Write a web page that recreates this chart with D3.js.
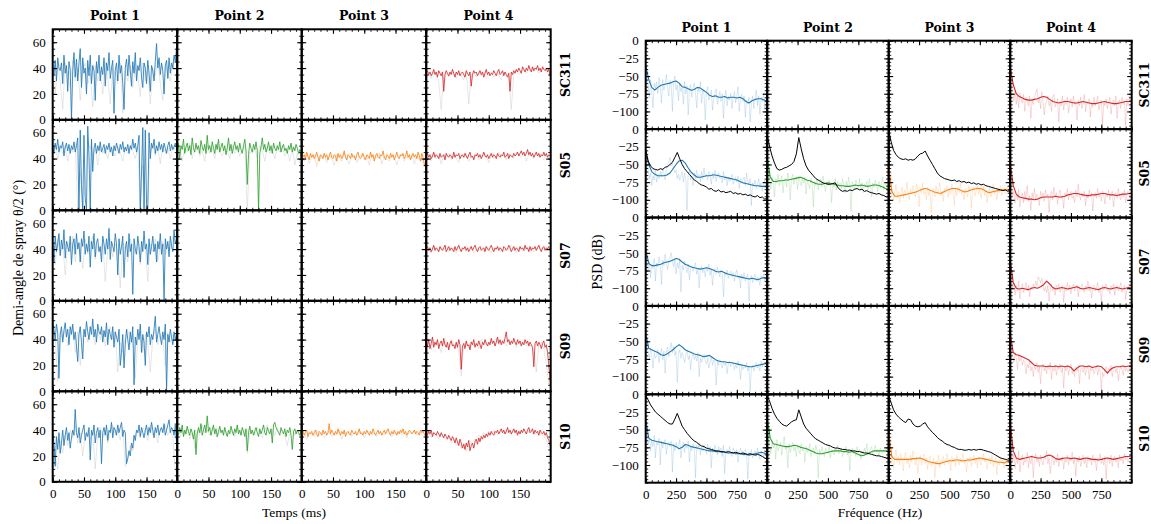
<!DOCTYPE html>
<html><head><meta charset="utf-8">
<script src="https://cdn.jsdelivr.net/npm/d3@7"></script>
<style>body{margin:0;background:#fff}text{fill:#000}</style>
</head><body><svg id="c" width="1151" height="524"></svg>
<script>
// ---------- labels / ticks ----------
const rowNames = ["SC311","S05","S07","S09","S10"];
const colNames = ["Point 1","Point 2","Point 3","Point 4"];
const seriesColors = ["#1f77b4","#2ca02c","#ff7f0e","#d62728"];
const refColor = "#000000";
const timeTicks = [0,50,100,150];
const angleTicks = [0,20,40,60];
const freqTicks = [0,250,500,750];
const psdTicks = [0,-25,-50,-75,-100];
const timeMinor = d3.range(0,200,10);
const angleMinor = d3.range(0,71,5);
const freqMinor = d3.range(0,1001,50);
const psdMinor = d3.range(-125,1,5);
const angleStep = 2, angleGrayStep = 4, psdStep = 25, psdRawStep = 10, psdRefStep = 20;

// ---------- half-angle time series (deg), every 2 ms ----------
const angle_SC311_P1 = [42,35,46,30,48,40,38,44,28,50,36,42,22,45,39,0,38,52,33,47,30,44,55,25,48,36,40,20,46,34,50,28,42,38,15,45,36,50,30,41,35,48,26,44,38,52,32,40,46,5,38,44,30,50,36,42,28,8,40,47,34,50,38,26,45,36,52,30,42,38,48,33,25,44,40,28,46,36,22,42,38,30,45,59,40,48,35,44,38,20,42,46,32,48,36,44,40,50,45,56];
const angle_SC311_P4 = [36,38,35,37,34,36,39,35,37,33,38,36,34,37,22,35,38,36,34,37,35,39,36,33,37,35,38,34,36,37,35,33,38,36,34,37,26,35,38,36,37,34,36,38,35,37,33,36,39,35,37,34,36,35,38,36,34,37,39,35,36,38,34,37,35,33,36,22,37,35,38,36,39,37,40,38,36,41,39,37,40,38,42,39,37,41,38,40,39,42,38,40,37,41,39,38,40,37,39,34];
const angle_S05_P1 = [50,44,52,47,55,45,50,48,53,42,49,52,46,51,44,50,47,53,45,50,56,0,62,20,0,58,10,0,65,42,0,55,30,48,52,44,50,46,53,45,48,51,44,50,47,52,45,49,42,50,46,52,48,44,51,47,53,45,49,46,51,44,50,47,55,48,52,45,50,58,0,30,64,0,62,5,0,60,40,52,48,55,44,50,46,53,47,51,45,52,48,44,50,53,46,51,47,49,52,48];
const angle_S05_P2 = [45,52,40,50,47,55,44,49,52,46,50,43,56,48,45,52,47,50,44,54,49,46,51,44,58,47,50,45,53,48,44,51,47,55,45,49,52,46,50,43,48,56,46,51,44,49,53,47,50,45,52,47,44,50,55,46,20,43,52,48,45,51,47,53,46,0,44,49,56,47,51,45,48,53,46,50,44,52,48,46,50,47,53,45,49,51,46,48,44,50,47,52,45,49,46,51,48,44,47,40];
const angle_S05_P3 = [44,41,43,40,45,42,39,44,41,43,40,42,45,41,38,43,42,40,44,41,43,39,42,45,41,40,43,42,38,44,41,43,40,42,46,41,39,43,42,40,44,41,42,39,43,45,41,40,42,44,41,39,43,42,40,45,41,43,38,42,44,41,40,43,42,46,41,39,43,42,40,44,41,43,39,42,45,41,40,43,42,44,40,42,46,41,43,39,42,44,41,43,40,45,42,38,44,41,36,33];
const angle_S05_P4 = [42,44,41,43,40,42,45,41,43,42,40,44,41,42,43,39,44,42,41,43,42,40,45,41,43,42,44,40,42,43,41,44,42,40,43,45,41,42,39,43,42,44,41,43,40,42,45,42,41,43,40,42,44,41,43,42,40,44,42,41,43,42,45,41,42,44,40,43,42,41,44,42,43,45,42,44,46,43,45,42,44,47,43,45,42,44,41,43,45,42,44,41,43,42,45,42,44,41,43,42];
const angle_S07_P1 = [45,30,50,38,44,52,35,47,40,55,33,46,42,38,50,28,44,48,36,52,40,45,30,48,42,54,36,44,38,50,26,46,40,52,34,45,48,38,42,30,50,44,36,48,40,56,32,46,42,38,52,44,20,48,36,42,50,18,40,46,34,52,38,44,5,48,40,36,50,42,30,46,38,54,40,44,28,48,36,42,50,38,44,30,46,40,52,36,44,0,48,40,46,34,50,42,38,55,44,48];
const angle_S07_P4 = [40,42,39,41,38,40,43,39,41,40,38,42,40,39,41,43,38,40,42,39,41,40,38,42,39,41,43,40,38,41,40,42,39,41,38,40,42,39,41,43,40,38,41,42,39,40,41,38,42,40,39,41,43,40,38,41,40,42,39,41,40,38,42,41,39,40,43,41,38,40,42,39,41,40,38,42,40,41,39,43,40,41,38,42,39,41,40,42,39,41,43,40,38,41,42,39,41,40,42,39];
const angle_S09_P1 = [55,48,40,52,45,10,44,50,38,47,53,42,48,36,50,44,52,40,46,35,23,44,50,38,25,48,42,54,46,40,50,44,56,42,48,38,52,46,44,50,38,47,42,53,36,48,44,40,50,34,46,42,38,48,20,30,44,18,36,48,40,32,46,38,50,5,42,36,48,40,52,30,44,38,20,46,42,50,36,44,40,48,58,38,44,50,42,36,46,40,52,0,44,38,48,42,36,46,40,45];
const angle_S09_P4 = [38,35,40,33,37,42,34,38,36,40,33,37,39,35,41,36,34,38,32,37,39,35,36,33,38,34,40,36,17,35,37,33,39,35,36,32,38,36,40,34,37,35,39,36,33,38,36,40,37,35,38,36,41,37,39,35,38,42,37,40,36,39,37,41,46,38,40,36,39,37,41,38,36,40,37,39,35,38,36,40,37,39,35,38,36,34,19,37,39,35,38,36,33,37,39,34,36,30,20,8];
const angle_S10_P1 = [40,30,12,35,25,38,22,30,40,28,36,42,32,38,26,34,40,36,56,38,34,42,30,36,40,44,32,38,35,42,17,40,36,44,30,38,42,34,40,14,38,42,36,44,32,40,38,46,34,42,40,36,44,38,42,46,35,40,38,14,18,24,20,30,26,36,32,40,38,44,35,42,38,34,40,44,36,42,38,46,40,34,42,38,44,36,40,42,38,45,36,40,44,48,38,42,40,36,44,30];
const angle_S10_P2 = [40,36,42,38,44,35,40,37,43,39,36,41,38,33,40,21,37,42,38,45,36,40,44,38,51,39,42,36,40,44,37,41,35,39,43,38,40,36,42,38,35,40,37,43,39,36,41,38,44,37,40,36,42,39,35,41,24,38,43,37,40,36,39,42,38,35,41,37,40,44,38,36,42,39,37,41,30,44,46,42,40,38,36,42,39,37,41,35,40,38,42,36,25,39,41,37,40,38,36,40];
const angle_S10_P3 = [37,39,36,38,40,35,38,37,39,36,38,40,37,35,39,38,36,40,37,39,36,38,45,37,40,38,36,39,37,41,38,36,39,37,40,35,38,39,37,36,40,38,37,39,36,38,41,37,38,36,39,37,40,38,36,39,37,41,38,36,38,40,37,39,36,38,40,37,39,41,38,36,39,37,40,38,36,39,37,40,38,41,37,39,36,38,40,39,37,38,40,37,39,38,36,40,38,39,37,35];
const angle_S10_P4 = [38,36,39,37,40,35,38,37,36,39,37,35,38,36,34,37,35,33,36,34,32,35,33,30,34,31,28,33,30,26,29,25,30,27,32,24,28,30,26,31,33,29,34,31,35,33,36,34,37,35,38,36,39,37,36,39,38,40,37,39,41,38,40,37,39,42,38,40,37,39,41,38,40,36,39,37,40,38,41,39,37,40,42,38,39,41,37,40,38,39,36,40,38,37,39,36,38,34,32,28];

// ---------- light grey background realisations, every 4 ms ----------
const angleGray_SC311_P1 = [38,20,42,30,8,44,35,25,46,30,40,15,38,44,28,36,10,42,30,38,20,45,33,12,40,36,28,44,5,38,30,42,25,40,35,18,44,30,38,12,40,34,46,28,15,42,36,30,44,50];
const angleGray_SC311_P4 = [34,36,32,37,35,30,8,34,36,33,37,35,32,36,34,31,37,12,35,36,33,37,34,36,32,35,37,33,36,34,31,37,35,33,8,36,38,35,37,39,36,38,40,37,39,36,38,40,37,35];
const angleGray_S05_P1 = [46,50,40,48,44,50,38,48,45,52,0,30,0,20,46,50,42,48,35,50,44,48,40,50,46,42,49,45,38,48,44,50,46,40,48,0,35,0,10,46,50,42,48,36,50,44,48,40,50,46];
const angleGray_S05_P2 = [44,50,38,48,45,52,40,47,50,42,46,38,50,44,48,40,52,45,42,48,46,40,50,44,48,42,47,50,0,45,44,48,40,50,46,38,49,44,47,40,48,45,50,42,46,38,48,35,44,36];
const angleGray_S05_P3 = [42,38,44,36,41,43,34,42,40,44,37,42,40,35,43,41,38,44,40,36,42,43,37,41,44,39,42,35,43,40,41,44,36,42,40,38,43,41,35,42,44,38,41,40,43,36,42,39,40,34];
const angleGray_S05_P4 = [41,43,38,44,40,42,36,43,41,44,39,42,40,37,43,41,44,38,42,40,43,39,41,44,42,37,43,40,42,45,41,43,39,44,42,40,45,43,41,44,38,43,42,40,44,41,43,39,42,41];
const angleGray_S07_P1 = [42,28,48,35,44,20,46,38,50,30,44,40,25,48,36,44,50,32,42,38,46,15,40,48,34,44,38,10,45,40,30,48,42,36,44,28,46,40,15,44,38,48,30,42,46,36,44,40,50,45];
const angleGray_S07_P4 = [39,41,37,42,40,38,41,39,43,38,40,41,37,42,39,40,38,41,42,37,40,39,41,38,42,40,37,41,39,42,40,38,41,39,43,40,37,41,40,38,42,39,41,38,40,42,39,41,38,40];
const angleGray_S09_P1 = [50,42,8,46,40,48,35,44,50,30,46,20,42,48,38,50,44,36,46,40,48,35,44,50,40,46,15,38,30,42,48,36,44,10,40,46,30,44,38,15,42,48,36,44,40,20,46,38,44,40];
const angleGray_S09_P4 = [36,38,32,40,35,37,30,38,36,33,40,35,37,31,12,36,38,34,39,35,37,33,40,36,38,35,39,37,41,36,38,40,35,38,36,39,34,38,36,37,35,38,34,32,15,36,38,33,20,5];
const angleGray_S10_P1 = [38,20,10,32,22,36,28,40,34,44,30,38,20,36,40,32,38,10,36,42,34,40,30,38,44,36,40,32,42,12,18,28,24,36,40,34,42,38,32,44,36,40,30,42,38,44,36,40,34,8];
const angleGray_S10_P2 = [38,34,40,36,42,33,38,26,40,36,44,38,40,36,42,38,34,40,37,42,36,38,40,35,42,38,36,40,22,38,40,36,42,38,34,40,44,38,40,36,42,38,40,36,28,38,40,36,38,35];
const angleGray_S10_P3 = [36,38,33,39,37,35,40,36,38,34,37,39,35,38,36,40,33,38,37,39,35,38,36,40,37,34,38,39,36,38,35,39,37,36,40,38,35,38,37,39,36,38,34,39,37,40,36,38,37,34];
const angleGray_S10_P4 = [36,38,34,39,36,33,37,34,32,35,30,33,28,31,26,30,24,28,30,32,34,36,35,38,36,39,37,40,36,38,40,37,39,38,36,40,37,39,38,41,37,39,40,36,38,39,37,35,32,26];

// ---------- PSD smoothed (dB), every 25 Hz ----------
const psd_SC311_P1 = [-35,-55,-66,-70,-66,-63,-62,-61,-60,-58,-57,-60,-65,-66,-68,-70,-69,-66,-67,-70,-73,-77,-79,-78,-80,-80,-79,-81,-80,-80,-81,-80,-82,-86,-88,-85,-83,-82,-82,-84,-86];
const psd_SC311_P4 = [-37,-62,-75,-79,-81,-83,-84,-84,-83,-82,-80,-79,-80,-83,-86,-87,-88,-87,-86,-86,-87,-88,-88,-87,-86,-87,-88,-89,-89,-88,-87,-86,-87,-88,-89,-89,-88,-87,-86,-86,-85];
const psd_S05_P1 = [-30,-50,-60,-64,-66,-66,-66,-65,-62,-56,-50,-45,-44,-48,-55,-61,-65,-68,-68,-67,-66,-66,-65,-65,-66,-67,-68,-69,-70,-71,-72,-74,-76,-77,-78,-79,-80,-80,-81,-81,-82];
const psd_S05_P2 = [-40,-68,-74,-74,-73,-73,-72,-72,-71,-70,-69,-68,-70,-72,-73,-75,-77,-78,-78,-77,-76,-77,-78,-79,-80,-80,-81,-81,-80,-79,-80,-79,-80,-81,-80,-79,-79,-80,-82,-84,-86];
const psd_S05_P3 = [-50,-88,-95,-95,-94,-93,-92,-91,-90,-89,-87,-85,-84,-85,-87,-89,-90,-91,-89,-87,-85,-84,-84,-85,-87,-89,-88,-86,-85,-84,-84,-85,-88,-90,-89,-88,-87,-86,-86,-86,-87];
const psd_S05_P4 = [-48,-80,-92,-96,-97,-98,-99,-99,-100,-99,-97,-96,-96,-96,-96,-95,-96,-96,-95,-93,-92,-91,-91,-92,-93,-94,-94,-93,-93,-92,-91,-91,-92,-93,-93,-94,-93,-92,-92,-91,-91];
const psd_S07_P1 = [-45,-65,-68,-68,-67,-66,-64,-63,-62,-60,-58,-59,-63,-66,-68,-70,-71,-72,-73,-72,-71,-72,-74,-76,-77,-76,-78,-80,-81,-82,-83,-84,-85,-86,-87,-86,-87,-88,-86,-85,-86];
const psd_S07_P4 = [-60,-92,-100,-101,-100,-101,-102,-100,-99,-100,-98,-95,-90,-94,-99,-101,-100,-99,-100,-101,-100,-99,-98,-100,-101,-100,-99,-100,-101,-102,-100,-99,-100,-101,-100,-99,-100,-101,-100,-99,-100];
const psd_S09_P1 = [-38,-60,-62,-64,-66,-69,-70,-68,-65,-62,-58,-55,-58,-62,-64,-66,-68,-69,-70,-72,-71,-70,-73,-76,-78,-79,-79,-80,-80,-81,-82,-83,-84,-85,-86,-86,-85,-84,-83,-82,-81];
const psd_S09_P4 = [-40,-66,-69,-70,-72,-74,-76,-80,-84,-85,-85,-85,-86,-85,-86,-85,-86,-85,-86,-85,-87,-92,-88,-85,-85,-86,-85,-87,-86,-85,-86,-90,-95,-90,-87,-86,-86,-85,-86,-85,-84];
const psd_S10_P1 = [-35,-62,-65,-66,-67,-68,-69,-70,-71,-72,-74,-77,-75,-71,-72,-74,-75,-76,-77,-78,-79,-80,-80,-81,-81,-82,-82,-83,-83,-83,-84,-84,-85,-85,-86,-85,-84,-83,-82,-83,-85];
const psd_S10_P2 = [-33,-62,-70,-71,-72,-73,-74,-74,-73,-72,-73,-75,-76,-77,-79,-81,-83,-84,-84,-83,-82,-81,-80,-80,-80,-81,-81,-82,-81,-83,-85,-87,-86,-84,-82,-80,-80,-80,-80,-80,-81];
const psd_S10_P3 = [-52,-88,-92,-92,-92,-92,-92,-92,-91,-91,-90,-91,-93,-95,-96,-97,-98,-98,-96,-95,-94,-94,-93,-93,-94,-94,-93,-93,-92,-91,-90,-91,-92,-93,-94,-95,-96,-96,-97,-95,-94];
const psd_S10_P4 = [-40,-80,-90,-92,-91,-90,-89,-88,-89,-90,-90,-89,-87,-86,-88,-91,-92,-91,-90,-90,-91,-90,-91,-92,-91,-90,-91,-92,-92,-93,-92,-91,-90,-91,-92,-91,-90,-89,-88,-88,-87];

// ---------- PSD raw (dB), every 10 Hz ----------
const psdRaw_SC311_P1 = [-30,-50,-62,-80,-55,-72,-95,-60,-68,-58,-75,-52,-64,-88,-55,-70,-60,-48,-66,-78,-56,-62,-100,-58,-50,-70,-62,-85,-60,-72,-66,-90,-58,-75,-64,-105,-70,-62,-80,-68,-60,-74,-95,-66,-72,-58,-88,-70,-76,-112,-72,-65,-84,-78,-70,-98,-82,-74,-68,-90,-80,-72,-86,-75,-110,-80,-70,-92,-78,-84,-74,-96,-80,-72,-88,-78,-65,-100,-82,-76,-86,-78,-108,-84,-90,-80,-115,-88,-78,-96,-82,-70,-92,-78,-104,-80,-86,-74,-98,-85];
const psdRaw_SC311_P4 = [-35,-55,-70,-85,-72,-90,-78,-95,-74,-82,-88,-76,-100,-80,-86,-92,-78,-110,-84,-90,-80,-74,-68,-88,-82,-96,-72,-85,-105,-90,-84,-78,-92,-86,-100,-80,-76,-94,-88,-82,-115,-86,-92,-78,-98,-84,-90,-80,-102,-88,-82,-94,-78,-90,-86,-112,-84,-92,-80,-96,-88,-76,-100,-86,-90,-82,-108,-88,-94,-80,-92,-86,-78,-98,-90,-84,-118,-88,-92,-82,-96,-86,-80,-104,-90,-84,-92,-78,-110,-88,-84,-96,-80,-90,-86,-120,-82,-92,-78,-88];
const psdRaw_S05_P1 = [-25,-45,-58,-70,-62,-80,-66,-72,-58,-75,-64,-70,-60,-68,-55,-62,-72,-58,-50,-46,-40,-52,-48,-55,-62,-58,-70,-64,-72,-66,-60,-75,-62,-70,-115,-64,-58,-72,-66,-80,-62,-70,-58,-68,-64,-75,-60,-70,-55,-68,-64,-72,-60,-66,-78,-62,-70,-58,-74,-66,-62,-70,-68,-76,-60,-72,-66,-80,-68,-74,-70,-64,-78,-72,-68,-75,-66,-84,-70,-76,-72,-68,-80,-62,-74,-78,-70,-108,-76,-80,-72,-84,-78,-70,-82,-76,-88,-78,-72,-84];
const psdRaw_S05_P2 = [-38,-60,-72,-85,-68,-78,-96,-70,-76,-64,-80,-72,-66,-90,-74,-70,-82,-62,-76,-100,-70,-64,-78,-72,-68,-85,-66,-74,-80,-70,-76,-68,-92,-72,-78,-84,-70,-76,-110,-74,-80,-72,-86,-76,-70,-82,-66,-78,-88,-74,-80,-72,-78,-104,-76,-82,-70,-86,-74,-80,-76,-84,-70,-78,-90,-74,-82,-68,-80,-116,-74,-80,-86,-72,-78,-82,-70,-84,-76,-90,-78,-82,-74,-86,-70,-80,-96,-76,-82,-72,-80,-88,-74,-84,-78,-68,-86,-80,-76,-88];
const psdRaw_S05_P3 = [-48,-75,-95,-85,-100,-90,-78,-96,-88,-104,-92,-82,-98,-86,-94,-75,-90,-100,-84,-92,-80,-88,-96,-78,-86,-110,-84,-90,-76,-92,-88,-100,-82,-94,-86,-118,-90,-84,-96,-80,-92,-86,-76,-94,-88,-102,-84,-90,-80,-96,-86,-92,-78,-88,-108,-84,-94,-82,-90,-76,-92,-86,-100,-84,-90,-96,-80,-88,-112,-86,-82,-94,-88,-78,-92,-84,-98,-88,-80,-94,-86,-104,-90,-82,-96,-88,-78,-92,-86,-100,-84,-90,-80,-94,-88,-84,-92,-86,-80,-88];
const psdRaw_S05_P4 = [-45,-75,-95,-88,-105,-92,-100,-85,-110,-96,-90,-104,-88,-98,-80,-102,-94,-115,-90,-98,-84,-100,-92,-96,-108,-88,-98,-90,-102,-86,-96,-92,-118,-94,-88,-100,-82,-96,-90,-106,-92,-86,-98,-94,-112,-90,-96,-84,-100,-92,-88,-98,-94,-104,-86,-96,-78,-94,-100,-90,-96,-88,-108,-92,-98,-86,-96,-90,-116,-94,-90,-98,-84,-96,-92,-102,-88,-94,-106,-90,-96,-86,-100,-92,-88,-110,-94,-90,-98,-84,-94,-100,-90,-96,-86,-104,-92,-88,-96,-90];
const psdRaw_S07_P1 = [-40,-60,-75,-62,-85,-66,-72,-58,-90,-64,-70,-56,-66,-95,-60,-68,-52,-64,-74,-60,-56,-50,-62,-70,-58,-80,-64,-72,-60,-105,-68,-74,-62,-70,-78,-66,-88,-72,-68,-76,-70,-64,-80,-72,-100,-74,-68,-78,-72,-84,-70,-76,-66,-82,-74,-96,-78,-72,-80,-70,-76,-84,-74,-80,-112,-78,-82,-74,-86,-80,-76,-84,-78,-90,-80,-74,-86,-82,-100,-80,-86,-78,-90,-84,-80,-118,-86,-82,-92,-84,-80,-90,-84,-88,-96,-82,-86,-80,-90,-85];
const psdRaw_S07_P4 = [-55,-85,-100,-92,-110,-96,-104,-90,-115,-98,-94,-106,-100,-92,-104,-96,-112,-98,-102,-94,-100,-90,-96,-84,-88,-92,-86,-96,-104,-98,-106,-96,-118,-100,-94,-104,-98,-110,-96,-102,-94,-106,-100,-96,-120,-98,-104,-92,-102,-96,-108,-98,-94,-104,-100,-96,-112,-98,-102,-94,-100,-106,-96,-102,-90,-104,-98,-114,-100,-96,-104,-98,-92,-106,-100,-118,-96,-102,-98,-94,-104,-100,-108,-96,-102,-94,-110,-100,-96,-104,-98,-92,-106,-100,-96,-116,-102,-98,-94,-100];
const psdRaw_S09_P1 = [-35,-58,-66,-75,-60,-72,-88,-66,-74,-70,-62,-80,-68,-60,-76,-64,-95,-66,-58,-72,-60,-52,-66,-58,-70,-64,-108,-68,-62,-74,-66,-72,-80,-68,-64,-76,-70,-90,-72,-68,-76,-70,-78,-66,-100,-74,-80,-72,-68,-78,-82,-74,-88,-78,-72,-84,-76,-80,-112,-78,-84,-76,-82,-88,-78,-84,-80,-96,-82,-78,-86,-82,-80,-90,-84,-88,-78,-86,-104,-84,-90,-84,-88,-80,-92,-86,-120,-88,-84,-92,-86,-80,-88,-84,-92,-78,-86,-82,-80,-84];
const psdRaw_S09_P4 = [-38,-62,-70,-80,-66,-74,-90,-70,-78,-72,-84,-76,-80,-96,-82,-88,-78,-92,-86,-100,-84,-90,-80,-94,-86,-110,-88,-82,-92,-86,-96,-84,-90,-80,-104,-88,-92,-84,-98,-86,-90,-82,-94,-88,-116,-86,-92,-84,-98,-88,-82,-96,-90,-100,-86,-92,-84,-110,-90,-88,-94,-86,-98,-90,-84,-104,-88,-92,-86,-96,-90,-84,-98,-88,-92,-118,-94,-100,-90,-86,-96,-88,-92,-84,-100,-90,-86,-94,-88,-106,-92,-86,-90,-98,-84,-92,-88,-94,-86,-90];
const psdRaw_S10_P1 = [-30,-55,-70,-62,-80,-66,-74,-58,-90,-68,-72,-62,-100,-66,-76,-70,-64,-85,-72,-68,-74,-66,-110,-70,-80,-68,-76,-72,-64,-90,-74,-68,-82,-70,-76,-66,-96,-74,-80,-70,-76,-118,-72,-78,-68,-86,-74,-80,-72,-76,-84,-70,-78,-74,-104,-76,-82,-72,-78,-86,-74,-80,-76,-88,-72,-112,-80,-78,-84,-74,-82,-88,-76,-80,-86,-78,-96,-82,-76,-84,-80,-88,-78,-84,-120,-82,-86,-78,-90,-84,-80,-88,-76,-84,-92,-80,-86,-88,-78,-84];
const psdRaw_S10_P2 = [-30,-58,-72,-84,-66,-76,-70,-92,-64,-80,-74,-68,-86,-72,-60,-78,-74,-104,-70,-82,-76,-68,-80,-74,-88,-72,-78,-84,-70,-80,-76,-96,-74,-82,-78,-70,-88,-80,-76,-84,-72,-80,-118,-78,-84,-74,-82,-88,-76,-80,-84,-74,-90,-78,-82,-86,-76,-80,-72,-84,-80,-76,-88,-82,-78,-74,-86,-80,-108,-82,-76,-84,-80,-88,-74,-82,-78,-92,-80,-84,-76,-82,-70,-86,-80,-78,-74,-84,-80,-72,-82,-78,-86,-76,-80,-84,-78,-82,-76,-80];
const psdRaw_S10_P3 = [-50,-80,-98,-86,-104,-90,-78,-96,-88,-100,-84,-94,-108,-88,-82,-98,-92,-104,-86,-96,-80,-92,-100,-88,-112,-94,-86,-100,-92,-84,-98,-90,-106,-94,-88,-102,-96,-90,-118,-94,-98,-86,-104,-92,-96,-88,-100,-94,-84,-98,-92,-108,-88,-96,-90,-102,-86,-94,-100,-90,-96,-84,-98,-92,-110,-90,-96,-88,-102,-94,-86,-98,-90,-104,-88,-94,-100,-92,-84,-96,-92,-106,-94,-90,-98,-86,-102,-96,-90,-114,-94,-100,-88,-96,-92,-104,-90,-98,-92,-96];
const psdRaw_S10_P4 = [-38,-70,-95,-85,-105,-90,-98,-80,-110,-92,-86,-100,-92,-96,-82,-104,-90,-98,-86,-118,-92,-84,-96,-90,-102,-86,-94,-100,-88,-92,-80,-98,-90,-112,-94,-86,-100,-92,-96,-84,-102,-90,-94,-88,-106,-92,-96,-86,-100,-90,-94,-82,-98,-92,-116,-90,-96,-88,-102,-94,-86,-98,-92,-104,-88,-94,-90,-100,-86,-96,-92,-108,-90,-94,-84,-98,-92,-100,-88,-120,-94,-90,-98,-86,-102,-92,-88,-96,-90,-104,-86,-94,-90,-98,-84,-92,-88,-96,-90,-86];

// ---------- reference PSD (black), every 20 Hz ----------
const psdRef_S05_P1 = [-30,-45,-52,-56,-57,-58,-56,-57,-54,-53,-50,-47,-40,-33,-42,-50,-56,-60,-64,-68,-72,-74,-77,-79,-80,-82,-85,-84,-87,-88,-86,-89,-88,-90,-89,-88,-91,-90,-92,-91,-93,-92,-94,-93,-95,-96,-94,-97,-96,-99,-98];
const psdRef_S05_P2 = [-8,-25,-38,-48,-56,-58,-57,-55,-54,-52,-50,-46,-35,-12,-28,-42,-52,-58,-62,-66,-70,-72,-74,-76,-77,-78,-78,-77,-76,-82,-86,-88,-87,-88,-86,-87,-85,-84,-86,-85,-88,-87,-89,-90,-91,-92,-91,-93,-94,-96,-95];
const psdRef_S05_P3 = [-2,-18,-30,-36,-40,-42,-43,-42,-44,-43,-44,-42,-38,-35,-34,-31,-38,-44,-50,-56,-62,-66,-68,-70,-71,-72,-73,-72,-74,-73,-75,-74,-76,-75,-77,-76,-78,-77,-79,-78,-80,-81,-82,-83,-84,-85,-86,-87,-86,-88,-87];
const psdRef_S10_P1 = [-2,-8,-15,-20,-25,-28,-31,-34,-37,-40,-42,-42,-35,-27,-36,-45,-50,-55,-59,-63,-66,-68,-71,-73,-74,-76,-77,-78,-79,-80,-80,-81,-81,-82,-81,-82,-83,-82,-83,-84,-83,-84,-85,-84,-85,-86,-85,-86,-88,-90,-92];
const psdRef_S10_P2 = [-2,-10,-20,-28,-34,-38,-42,-44,-45,-42,-39,-37,-36,-22,-32,-42,-48,-52,-56,-60,-63,-65,-67,-69,-71,-72,-73,-75,-76,-76,-77,-78,-78,-79,-79,-80,-80,-81,-81,-82,-83,-83,-84,-85,-86,-87,-87,-88,-89,-90,-90];
const psdRef_S10_P3 = [-2,-12,-22,-28,-32,-35,-38,-40,-35,-36,-42,-45,-46,-45,-42,-40,-46,-50,-54,-57,-61,-64,-66,-69,-71,-72,-74,-75,-77,-78,-78,-79,-79,-78,-79,-78,-79,-78,-78,-79,-80,-81,-82,-84,-86,-88,-90,-91,-92,-93,-93];

// ---------- panel tables ----------
const anglePanels = [
  {r:0,c:0,main:angle_SC311_P1,gray:angleGray_SC311_P1},
  {r:0,c:3,main:angle_SC311_P4,gray:angleGray_SC311_P4},
  {r:1,c:0,main:angle_S05_P1,gray:angleGray_S05_P1},
  {r:1,c:1,main:angle_S05_P2,gray:angleGray_S05_P2},
  {r:1,c:2,main:angle_S05_P3,gray:angleGray_S05_P3},
  {r:1,c:3,main:angle_S05_P4,gray:angleGray_S05_P4},
  {r:2,c:0,main:angle_S07_P1,gray:angleGray_S07_P1},
  {r:2,c:3,main:angle_S07_P4,gray:angleGray_S07_P4},
  {r:3,c:0,main:angle_S09_P1,gray:angleGray_S09_P1},
  {r:3,c:3,main:angle_S09_P4,gray:angleGray_S09_P4},
  {r:4,c:0,main:angle_S10_P1,gray:angleGray_S10_P1},
  {r:4,c:1,main:angle_S10_P2,gray:angleGray_S10_P2},
  {r:4,c:2,main:angle_S10_P3,gray:angleGray_S10_P3},
  {r:4,c:3,main:angle_S10_P4,gray:angleGray_S10_P4}
];
const psdPanels = [
  {r:0,c:0,smooth:psd_SC311_P1,raw:psdRaw_SC311_P1},
  {r:0,c:3,smooth:psd_SC311_P4,raw:psdRaw_SC311_P4},
  {r:1,c:0,smooth:psd_S05_P1,raw:psdRaw_S05_P1,ref:psdRef_S05_P1},
  {r:1,c:1,smooth:psd_S05_P2,raw:psdRaw_S05_P2,ref:psdRef_S05_P2},
  {r:1,c:2,smooth:psd_S05_P3,raw:psdRaw_S05_P3,ref:psdRef_S05_P3},
  {r:1,c:3,smooth:psd_S05_P4,raw:psdRaw_S05_P4},
  {r:2,c:0,smooth:psd_S07_P1,raw:psdRaw_S07_P1},
  {r:2,c:3,smooth:psd_S07_P4,raw:psdRaw_S07_P4},
  {r:3,c:0,smooth:psd_S09_P1,raw:psdRaw_S09_P1},
  {r:3,c:3,smooth:psd_S09_P4,raw:psdRaw_S09_P4},
  {r:4,c:0,smooth:psd_S10_P1,raw:psdRaw_S10_P1,ref:psdRef_S10_P1},
  {r:4,c:1,smooth:psd_S10_P2,raw:psdRaw_S10_P2,ref:psdRef_S10_P2},
  {r:4,c:2,smooth:psd_S10_P3,raw:psdRaw_S10_P3,ref:psdRef_S10_P3},
  {r:4,c:3,smooth:psd_S10_P4,raw:psdRaw_S10_P4}
];

// ---------- drawing ----------
const svg = d3.select("#c");
const serif = "'Liberation Serif', 'DejaVu Serif', serif";
const bold = "'DejaVu Serif', serif";
let clipId = 0;

function drawGrid(cfg){
  const g0 = svg.append("g");
  const x = d3.scaleLinear().domain(cfg.xDomain).range([0,cfg.colW]);
  const y = d3.scaleLinear().domain(cfg.yDomain).range([cfg.rowH,0]);
  const fmt = d3.format("d");
  const panelMap = new Map(cfg.panels.map(p=>[p.r+"-"+p.c,p]));
  for(let r=0;r<rowNames.length;r++){
    for(let c=0;c<colNames.length;c++){
      const g = g0.append("g").attr("transform",`translate(${cfg.x0+c*cfg.colW},${cfg.y0+r*cfg.rowH})`);
      const id = "clip"+(clipId++);
      g.append("clipPath").attr("id",id).append("rect").attr("width",cfg.colW).attr("height",cfg.rowH);
      const pg = g.append("g").attr("clip-path",`url(#${id})`);
      const p = panelMap.get(r+"-"+c);
      if(p) cfg.layers(p).forEach(L=>{
        const line = d3.line().x((d,i)=>x(i*L.step)).y(d=>y(d));
        pg.append("path").attr("d",line(L.data)).attr("fill","none")
          .attr("stroke",L.color).attr("stroke-width",L.width).attr("stroke-opacity",L.opacity)
          .attr("stroke-linejoin","round");
      });
      const axes = [
        {a:d3.axisBottom(x),t:`translate(0,${cfg.rowH})`,maj:cfg.xTicks,min:cfg.xMinor,lab:r===rowNames.length-1},
        {a:d3.axisTop(x),t:"translate(0,0)",maj:cfg.xTicks,min:cfg.xMinor,lab:false},
        {a:d3.axisLeft(y),t:"translate(0,0)",maj:cfg.yTicks,min:cfg.yMinor,lab:c===0},
        {a:d3.axisRight(y),t:`translate(${cfg.colW},0)`,maj:cfg.yTicks,min:cfg.yMinor,lab:false}
      ];
      axes.forEach(A=>{
        const gm = g.append("g").attr("transform",A.t)
          .call(A.a.tickValues(A.min).tickSize(-2.5).tickFormat(""));
        gm.select(".domain").remove();
        gm.selectAll("line").attr("stroke","#000").attr("stroke-width",0.9);
        const ga = g.append("g").attr("transform",A.t)
          .call(A.a.tickValues(A.maj).tickSize(-4.5).tickPadding(7).tickFormat(A.lab?fmt:""));
        ga.select(".domain").remove();
        ga.selectAll("line").attr("stroke","#000").attr("stroke-width",1.1);
        ga.selectAll("text").attr("font-family",serif).attr("font-size",13).attr("fill","#000");
      });
      g.append("rect").attr("width",cfg.colW).attr("height",cfg.rowH)
        .attr("fill","none").attr("stroke","#000").attr("stroke-width",2);
    }
  }
  colNames.forEach((n,c)=>{
    svg.append("text").attr("x",cfg.x0+(c+0.5)*cfg.colW).attr("y",cfg.titleY)
      .attr("text-anchor","middle").attr("font-family",bold).attr("font-weight","bold")
      .attr("font-size",12.5).text(n);
  });
  rowNames.forEach((n,r)=>{
    svg.append("text").attr("transform",`translate(${cfg.rowLabelX},${cfg.y0+(r+0.5)*cfg.rowH}) rotate(-90)`)
      .attr("text-anchor","middle").attr("dominant-baseline","central")
      .attr("font-family",bold).attr("font-weight","bold").attr("font-size",12.5).text(n);
  });
  svg.append("text").attr("x",cfg.xLabelX).attr("y",517).attr("text-anchor","middle")
    .attr("font-family",serif).attr("font-size",13.5).text(cfg.xLabel);
  svg.append("text").attr("transform",`translate(${cfg.yLabelX},${cfg.yLabelY}) rotate(-90)`)
    .attr("text-anchor","middle").attr("dominant-baseline","central")
    .attr("font-family",serif).attr("font-size",14).text(cfg.yLabel);
}

drawGrid({
  x0:52.7, y0:29.3, colW:124.5, rowH:90.5,
  xDomain:[0,199], yDomain:[0,70],
  xTicks:timeTicks, yTicks:angleTicks, xMinor:timeMinor, yMinor:angleMinor,
  titleY:20, rowLabelX:565, xLabel:"Temps (ms)", xLabelX:294,
  yLabel:"Demi-angle de spray θ/2 (°)", yLabelX:18, yLabelY:258,
  panels:anglePanels,
  layers:p=>[
    {data:p.gray,step:angleGrayStep,color:"#c8c8c8",width:0.8,opacity:0.55},
    {data:p.main,step:angleStep,color:seriesColors[p.c],width:0.95,opacity:0.88}
  ]
});

drawGrid({
  x0:645.7, y0:40.7, colW:121.5, rowH:88.4,
  xDomain:[0,1000], yDomain:[-125,0],
  xTicks:freqTicks, yTicks:psdTicks, xMinor:freqMinor, yMinor:psdMinor,
  titleY:32, rowLabelX:1144, xLabel:"Fréquence (Hz)", xLabelX:880,
  yLabel:"PSD (dB)", yLabelX:597, yLabelY:262,
  panels:psdPanels,
  layers:p=>{
    const L=[{data:p.raw,step:psdRawStep,color:seriesColors[p.c],width:0.8,opacity:0.22},
             {data:p.smooth,step:psdStep,color:seriesColors[p.c],width:1.1,opacity:1}];
    if(p.ref) L.push({data:p.ref,step:psdRefStep,color:refColor,width:1,opacity:1});
    return L;
  }
});
</script></body></html>
